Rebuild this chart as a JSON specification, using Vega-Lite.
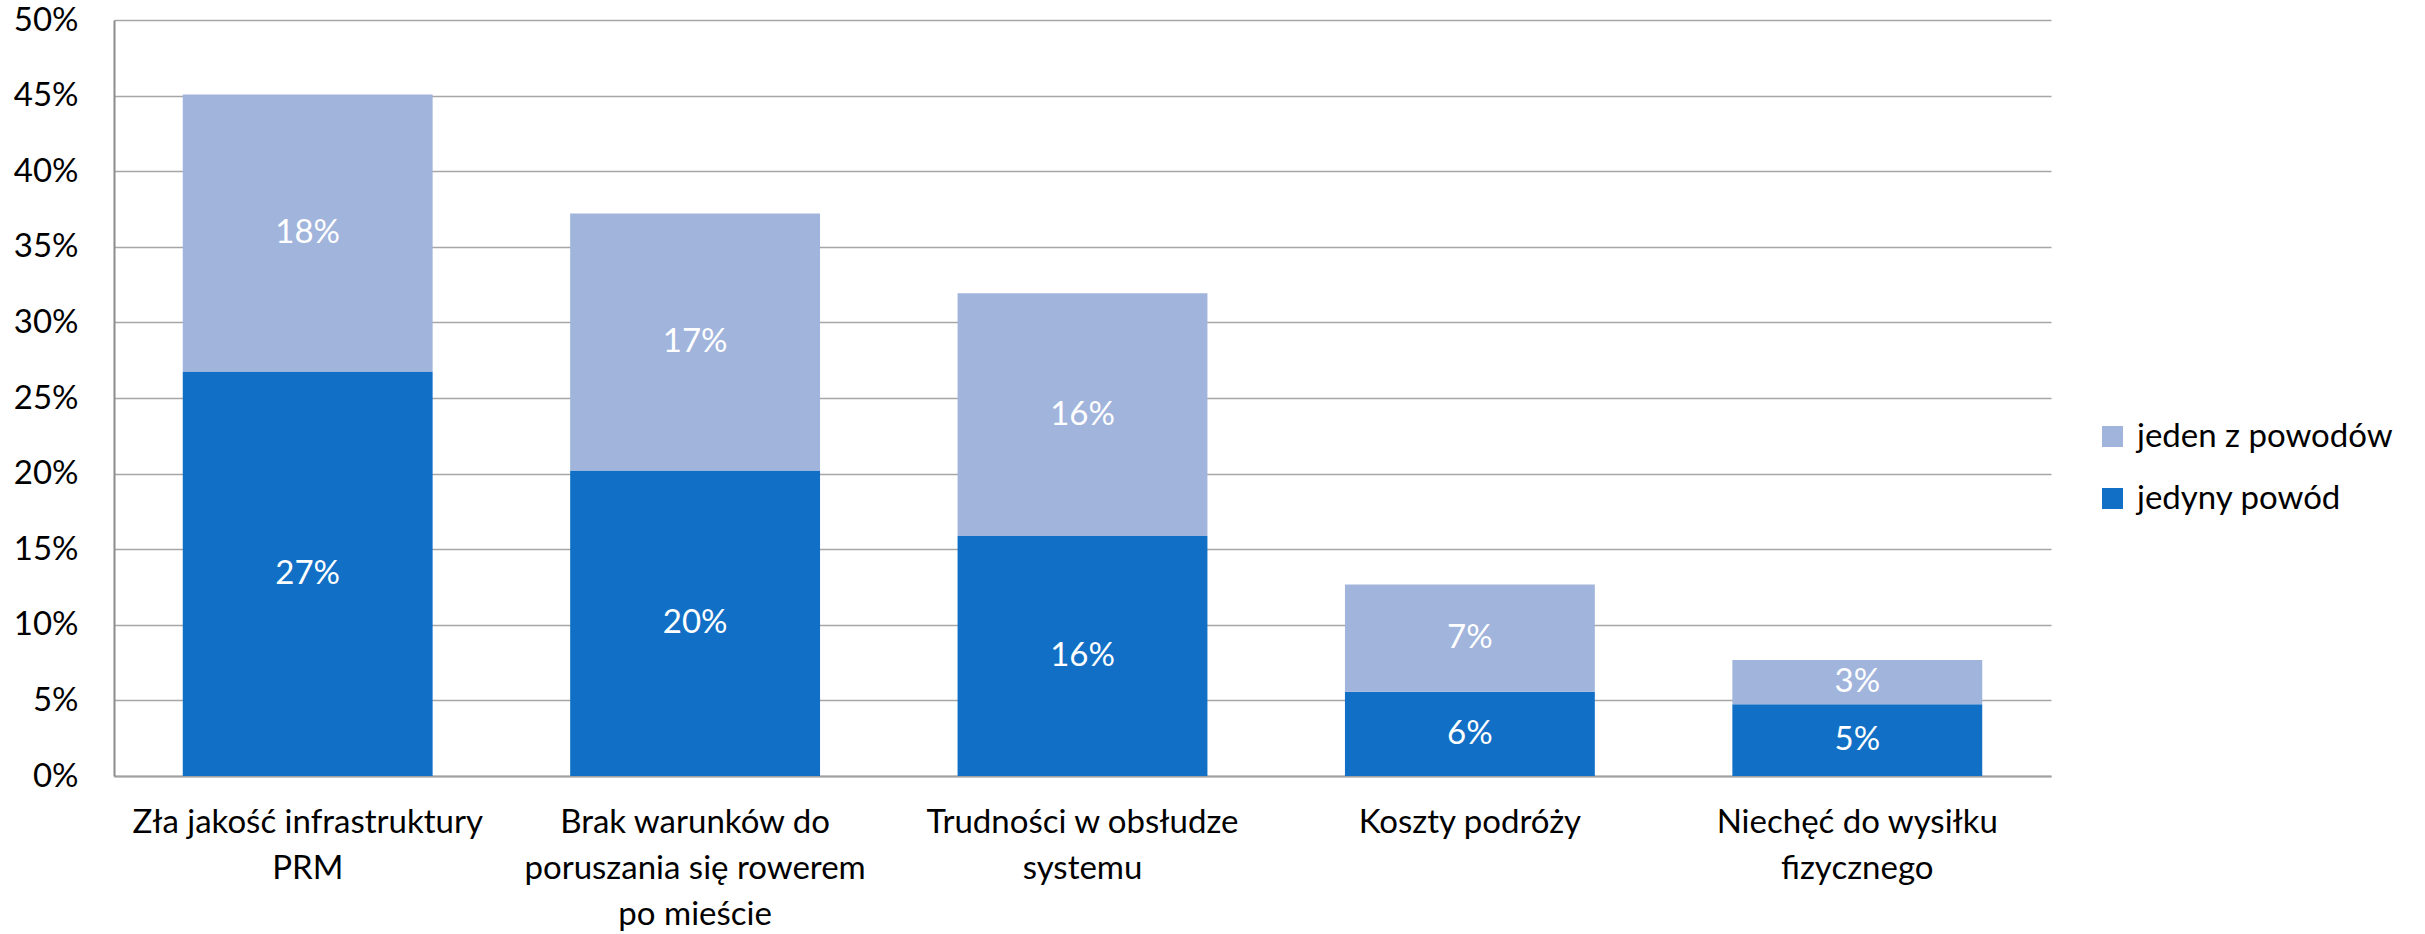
{
  "$schema": "https://vega.github.io/schema/vega-lite/v6.json",
  "autosize": "none",
  "padding": {"left": 114, "top": 20, "right": 374, "bottom": 158},
  "width": 1937,
  "height": 756,
  "background": "white",
  "config": {
    "font": "Lato",
    "view": {"stroke": null},
    "axis": {"labelFont": "Lato", "labelColor": "#000000", "labelFontSize": 33, "labelFontWeight": "normal"},
    "legend": {"labelFont": "Lato"}
  },
  "data": {
    "values": [
      {"cat": "Zła jakość infrastruktury PRM", "series": "jedyny powód", "value": 0.2675},
      {"cat": "Zła jakość infrastruktury PRM", "series": "jeden z powodów", "value": 0.1832},
      {"cat": "Brak warunków do poruszania się rowerem po mieście", "series": "jedyny powód", "value": 0.202},
      {"cat": "Brak warunków do poruszania się rowerem po mieście", "series": "jeden z powodów", "value": 0.170},
      {"cat": "Trudności w obsłudze systemu", "series": "jedyny powód", "value": 0.1588},
      {"cat": "Trudności w obsłudze systemu", "series": "jeden z powodów", "value": 0.1604},
      {"cat": "Koszty podróży", "series": "jedyny powód", "value": 0.0558},
      {"cat": "Koszty podróży", "series": "jeden z powodów", "value": 0.0708},
      {"cat": "Niechęć do wysiłku fizycznego", "series": "jedyny powód", "value": 0.0474},
      {"cat": "Niechęć do wysiłku fizycznego", "series": "jeden z powodów", "value": 0.0293}
    ]
  },
  "transform": [
    {"calculate": "datum.series == 'jedyny powód' ? 0 : 1", "as": "stackorder"},
    {"stack": "value", "groupby": ["cat"], "sort": [{"field": "stackorder", "order": "ascending"}], "as": ["v0", "v1"]},
    {"calculate": "(datum.v0 + datum.v1) / 2", "as": "vmid"}
  ],
  "encoding": {
    "x": {
      "field": "cat",
      "type": "nominal",
      "sort": null,
      "title": null,
      "scale": {"paddingInner": 0.355, "paddingOuter": 0.1775},
      "axis": {
        "labelAngle": 0,
        "domainColor": "#a0a0a0",
        "domainWidth": 2,
        "ticks": false,
        "labelPadding": 30,
        "labelLineHeight": 46,
        "labelBaseline": "top",
        "labelLimit": 0,
        "labelExpr": "datum.value == 'Zła jakość infrastruktury PRM' ? ['Zła jakość infrastruktury', 'PRM'] : datum.value == 'Brak warunków do poruszania się rowerem po mieście' ? ['Brak warunków do', 'poruszania się rowerem', 'po mieście'] : datum.value == 'Trudności w obsłudze systemu' ? ['Trudności w obsłudze', 'systemu'] : datum.value == 'Niechęć do wysiłku fizycznego' ? ['Niechęć do wysiłku', 'fizycznego'] : datum.value"
      }
    }
  },
  "layer": [
    {
      "mark": {"type": "bar"},
      "encoding": {
        "y": {
          "field": "v0",
          "type": "quantitative",
          "scale": {"domain": [0, 0.5], "nice": false},
          "title": null,
          "axis": {
            "format": ".0%",
            "values": [0, 0.05, 0.1, 0.15, 0.2, 0.25, 0.3, 0.35, 0.4, 0.45, 0.5],
            "grid": true,
            "gridColor": "#a6a6a6",
            "gridWidth": 1.5,
            "domainColor": "#8c8c8c",
            "domainWidth": 2,
            "ticks": false,
            "labelPadding": 36
          }
        },
        "y2": {"field": "v1"},
        "color": {
          "field": "series",
          "type": "nominal",
          "scale": {"domain": ["jeden z powodów", "jedyny powód"], "range": ["#a1b4dc", "#1170c6"]},
          "legend": {
            "title": null,
            "orient": "none",
            "legendX": 1982,
            "legendY": 400,
            "symbolType": "square",
            "symbolSize": 441,
            "symbolStrokeWidth": 0,
            "labelFontSize": 33,
            "labelColor": "#000000",
            "labelOffset": 8,
            "rowPadding": 28,
            "labelLimit": 400
          }
        }
      }
    },
    {
      "mark": {"type": "text", "color": "white", "fontSize": 33, "font": "Lato", "baseline": "middle", "align": "center"},
      "encoding": {
        "y": {"field": "vmid", "type": "quantitative"},
        "text": {"field": "value", "type": "quantitative", "format": ".0%"}
      }
    }
  ]
}
